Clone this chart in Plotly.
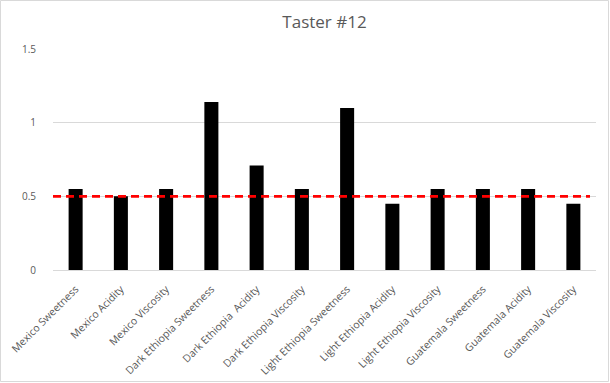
import plotly.graph_objects as go

categories = ["Mexico Sweetness", "Mexico Acidity", "Mexico Viscosity",
              "Dark Ethiopia Sweetness", "Dark Ethiopia  Acidity", "Dark Ethiopia Viscosity",
              "Light Ethiopia Sweetness", "Light Ethiopia Acidity", "Light Ethiopia Viscosity",
              "Guatemala Sweetness", "Guatemala Acidity", "Guatemala Viscosity"]
values = [0.55, 0.50, 0.55, 1.14, 0.71, 0.55, 1.10, 0.45, 0.55, 0.55, 0.55, 0.45]
threshold = 0.5
y_ticks = [0, 0.5, 1, 1.5]
y_tick_labels = ["0", "0.5", "1", "1.5"]
title = "Taster #12"

W, H = 610, 383
L, R, T, B = 53, 14, 49, 113
pw, ph = W - L - R, H - T - B

fig = go.Figure()
fig.add_trace(go.Bar(x=categories, y=values, marker=dict(color="black", line=dict(width=0)),
                     width=0.31, showlegend=False))

fig.add_shape(type="line", xref="paper", yref="y", x0=0, x1=(590 - L) / pw,
              y0=threshold, y1=threshold,
              line=dict(color="#ff0000", width=2.6, dash="8px,5px"), layer="above")

# outer chart border
fig.add_shape(type="rect", xref="paper", yref="paper",
              x0=(0.5 - L) / pw, x1=(W - 1.5 - L) / pw,
              y0=-(B - 1.5) / ph, y1=1 + (T - 0.5) / ph,
              line=dict(color="#d9d9d9", width=1), fillcolor="rgba(0,0,0,0)", layer="below")

fig.update_layout(
    width=W, height=H,
    margin=dict(l=L, r=R, t=T, b=B, autoexpand=False),
    paper_bgcolor="white", plot_bgcolor="white",
    font=dict(family="Open Sans, Liberation Sans, sans-serif", color="#595959"),
    title=dict(text=title, x=0.5, xanchor="center", xref="paper", y=1 - 22 / H, yanchor="middle",
               font=dict(size=17, color="#595959")),
    bargap=0.69,
)
fig.update_xaxes(tickangle=-45, tickfont=dict(size=10.5, color="#595959"),
                 showline=False, showgrid=False, ticks="", ticklen=0,
                 ticklabelstandoff=10)
fig.update_yaxes(range=[0, 1.5], tickvals=y_ticks, ticktext=y_tick_labels,
                 tickfont=dict(size=10, color="#595959"),
                 showgrid=True, gridcolor="#d9d9d9", gridwidth=1, zeroline=True,
                 zerolinecolor="#d9d9d9", zerolinewidth=1, showline=False, ticks="",
                 ticklabelstandoff=16)

fig.write_html("out.html", config={"displayModeBar": False},
               post_script="document.body.style.margin='0';document.body.style.padding='0';")
